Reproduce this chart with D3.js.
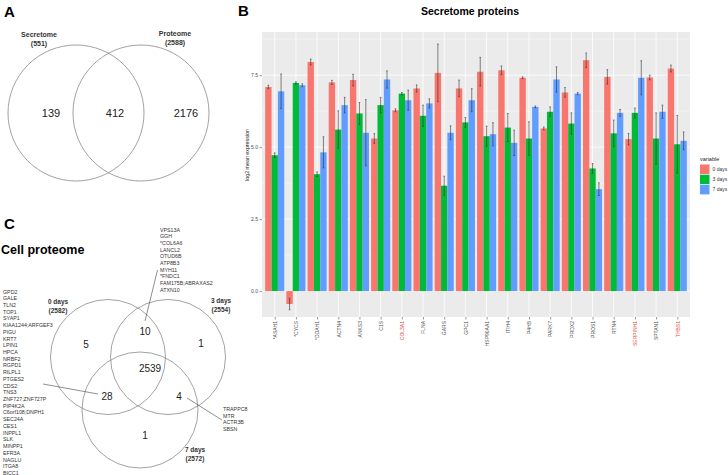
<!DOCTYPE html>
<html>
<head>
<meta charset="utf-8">
<script src="https://cdn.jsdelivr.net/npm/d3@7"></script>
<style>
  body { margin: 0; background: #fff; }
  text { font-family: "Liberation Sans", Arial, sans-serif; }
</style>
</head>
<body>
<div id="fig"></div>
<script>
// ---- data ----
var genes = ["*ASAH1","*CYCS","*DDAH1","ACTN4","ANKS3","C1S","COL3A1","FLNA","GARS","GPC1",
             "HSP90AA1","ITIH4","P4HB","PARK7","PRDX2","PROS1","RTN4","SERPINH1","SPTAN1","THBS1"];
var redGenes = ["COL3A1","SERPINH1","THBS1"];
var days = ["0 days","3 days","7 days"];
var day0 = [7.09,-0.45,7.96,7.25,7.33,5.30,6.28,7.04,7.58,7.04,7.62,7.67,7.41,5.65,6.90,8.02,7.44,5.28,7.42,7.73];
var day3 = [4.72,7.23,4.06,5.61,6.17,6.46,6.86,6.09,3.66,5.86,5.38,5.68,5.30,6.23,5.82,4.26,5.48,6.19,5.30,5.10];
var day7 = [6.94,7.15,4.82,6.46,5.50,7.35,6.63,6.52,5.50,6.63,5.45,5.15,6.40,7.35,6.86,3.54,6.19,7.41,6.23,5.22];
var err0 = [0.06,0.20,0.10,0.07,0.20,0.17,0.05,0.12,1.00,0.29,0.50,0.15,0.03,0.05,0.17,0.25,0.25,0.20,0.08,0.12];
var err3 = [0.08,0.04,0.08,0.65,0.38,0.27,0.04,0.37,0.33,0.17,0.35,0.49,0.58,0.17,0.37,0.17,0.46,0.17,0.89,1.00];
var err7 = [0.60,0.05,0.54,0.27,1.15,0.30,0.35,0.16,0.24,0.40,0.40,0.44,0.03,0.44,0.04,0.22,0.12,0.59,0.23,0.31];
var yTicks = [0, 2.5, 5, 7.5];

var vennASets = ["Secretome","Proteome"];
var vennASizes = [551, 2588];
var vennACounts = [139, 412, 2176];

var vennCSets = ["0 days","3 days","7 days"];
var vennCSizes = [2582, 2554, 2572];
// regions: only0, 0&3, only3, all, 0&7, 3&7, only7
var vennCCounts = [5, 10, 1, 2539, 28, 4, 1];
var genes0and7 = ["GPD2","GALE","TLN2","TOP1","SYAP1","KIAA1244;ARFGEF3","PIGU","KRT7","LPIN1","HPCA",
  "NRBF2","RGPD1","RILPL1","PTGES2","CDS2","TNS3","ZNF727;ZNF727P","PIP4K2A","C6orf108;DNPH1","SEC24A",
  "CES1","INPPL1","SLK","MINPP1","EFR3A","NAGLU","ITGA8","BICC1"];
var genes0and3 = ["VPS13A","GGH","*COL6A6","LANCL2","OTUD6B","ATP8B3","MYH11","*FNDC1","FAM175B;ABRAXAS2","ATXN10"];
var genes3and7 = ["TRAPPC8","MTR","ACTR3B","SBSN"];

var colors = ["#F8766D","#00BA38","#619CFF"];

var svg = d3.select("#fig").append("svg").attr("width", 728).attr("height", 475);

// ---- panel A ----
svg.append("text").attr("x", 4).attr("y", 17).attr("font-size", 15).attr("font-weight", "bold").text("A");
var circA = [{cx: 76, cy: 113, r: 68}, {cx: 141, cy: 113, r: 68}];
svg.selectAll("circle.a").data(circA).enter().append("circle")
  .attr("cx", function(d) { return d.cx; }).attr("cy", function(d) { return d.cy; })
  .attr("r", function(d) { return d.r; })
  .attr("fill", "none").attr("stroke", "#8a8a8a").attr("stroke-width", 0.8);
var setLabA = [{x: 39, y: 37}, {x: 175, y: 36}];
setLabA.forEach(function(p, i) {
  var t = svg.append("text").attr("x", p.x).attr("y", p.y).attr("text-anchor", "middle")
    .attr("font-size", 7).attr("font-weight", "bold").attr("fill", "#333");
  t.append("tspan").attr("x", p.x).text(vennASets[i]);
  t.append("tspan").attr("x", p.x).attr("dy", 9).text("(" + vennASizes[i] + ")");
});
var cntA = [{x: 51}, {x: 115}, {x: 186}];
svg.selectAll("text.ca").data(vennACounts).enter().append("text")
  .attr("x", function(d, i) { return cntA[i].x; }).attr("y", 117)
  .attr("text-anchor", "middle").attr("font-size", 11).attr("fill", "#222")
  .text(function(d) { return d; });

// ---- panel B ----
svg.append("text").attr("x", 238).attr("y", 16).attr("font-size", 15).attr("font-weight", "bold").text("B");
svg.append("text").attr("x", 470).attr("y", 15).attr("text-anchor", "middle")
  .attr("font-size", 10.5).attr("font-weight", "bold").text("Secretome proteins");

var pL = 262, pR = 690, pT = 32, pB = 317;
var x = d3.scalePoint().domain(genes).range([pL, pR]).padding(0.6);
var step = x.step();
var xs = d3.scaleBand().domain(days).range([-0.45 * step, 0.45 * step]);
var y = d3.scaleLinear().domain([-0.9, 9.0]).range([pB, pT]);

var g = svg.append("g");
g.append("rect").attr("x", pL).attr("y", pT).attr("width", pR - pL).attr("height", pB - pT).attr("fill", "#EBEBEB");
var minor = [1.25, 3.75, 6.25, 8.75];
g.selectAll("line.mn").data(minor).enter().append("line")
  .attr("x1", pL).attr("x2", pR).attr("y1", function(d) { return y(d); }).attr("y2", function(d) { return y(d); })
  .attr("stroke", "#fff").attr("stroke-width", 0.4);
g.selectAll("line.mj").data(yTicks).enter().append("line")
  .attr("x1", pL).attr("x2", pR).attr("y1", function(d) { return y(d); }).attr("y2", function(d) { return y(d); })
  .attr("stroke", "#fff").attr("stroke-width", 0.8);
g.selectAll("line.vx").data(genes).enter().append("line")
  .attr("x1", function(d) { return x(d); }).attr("x2", function(d) { return x(d); })
  .attr("y1", pT).attr("y2", pB).attr("stroke", "#fff").attr("stroke-width", 0.8);

var rows = [];
genes.forEach(function(gn, i) {
  [day0, day3, day7].forEach(function(arr, k) {
    var e = [err0, err3, err7][k][i];
    rows.push({gene: gn, day: days[k], v: arr[i], e: e, k: k});
  });
});
g.selectAll("rect.bar").data(rows).enter().append("rect")
  .attr("x", function(d) { return x(d.gene) + xs(d.day); })
  .attr("width", xs.bandwidth())
  .attr("y", function(d) { return y(Math.max(0, d.v)); })
  .attr("height", function(d) { return Math.abs(y(d.v) - y(0)); })
  .attr("fill", function(d) { return colors[d.k]; });
var eb = g.selectAll("g.err").data(rows).enter().append("g")
  .attr("transform", function(d) { return "translate(" + (x(d.gene) + xs(d.day) + xs.bandwidth() / 2) + ",0)"; });
eb.append("line").attr("x1", 0).attr("x2", 0)
  .attr("y1", function(d) { return y(d.v - d.e); }).attr("y2", function(d) { return y(d.v + d.e); })
  .attr("stroke", "#333").attr("stroke-width", 0.6);
eb.append("line").attr("x1", -0.8).attr("x2", 0.8)
  .attr("y1", function(d) { return y(d.v + d.e); }).attr("y2", function(d) { return y(d.v + d.e); })
  .attr("stroke", "#333").attr("stroke-width", 0.6);
eb.append("line").attr("x1", -0.8).attr("x2", 0.8)
  .attr("y1", function(d) { return y(d.v - d.e); }).attr("y2", function(d) { return y(d.v - d.e); })
  .attr("stroke", "#333").attr("stroke-width", 0.6);

// axes
var yAx = svg.append("g").attr("transform", "translate(" + pL + ",0)")
  .call(d3.axisLeft(y).tickValues(yTicks).tickFormat(d3.format(".1f")).tickSize(2.5).tickPadding(1.5));
yAx.select(".domain").remove();
yAx.selectAll("line").attr("stroke", "#333").attr("stroke-width", 0.5);
yAx.selectAll("text").attr("font-size", 5).attr("fill", "#4D4D4D");

var xAx = svg.append("g").attr("transform", "translate(0," + pB + ")")
  .call(d3.axisBottom(x).tickSize(2.5).tickPadding(1.5));
xAx.select(".domain").remove();
xAx.selectAll("line").attr("stroke", "#333").attr("stroke-width", 0.5);
xAx.selectAll("text")
  .attr("font-size", 5).attr("text-anchor", "end")
  .attr("transform", "rotate(-90)").attr("x", -4).attr("y", 0).attr("dy", "0.35em")
  .attr("fill", function(d) { return redGenes.indexOf(d) >= 0 ? "#E8433A" : "#4D4D4D"; });

svg.append("text").attr("transform", "translate(249,155) rotate(-90)")
  .attr("text-anchor", "middle").attr("font-size", 5.3).attr("fill", "#222").text("log2 mean expression");

// legend
var lg = svg.append("g").attr("transform", "translate(700,0)");
lg.append("text").attr("x", 0).attr("y", 161).attr("font-size", 5.5).attr("fill", "#222").text("variable");
lg.selectAll("rect").data(days).enter().append("rect")
  .attr("x", 0).attr("y", function(d, i) { return 164.5 + i * 10.2; })
  .attr("width", 9.5).attr("height", 9.5)
  .attr("fill", function(d, i) { return colors[i]; });
lg.selectAll("text.lab").data(days).enter().append("text")
  .attr("x", 12.5).attr("y", function(d, i) { return 171 + i * 10.2; })
  .attr("font-size", 5).attr("fill", "#333").text(function(d) { return d; });

// ---- panel C ----
svg.append("text").attr("x", 4).attr("y", 229).attr("font-size", 15).attr("font-weight", "bold").text("C");
svg.append("text").attr("x", 1).attr("y", 254).attr("font-size", 12.5).attr("font-weight", "bold").text("Cell proteome");

var circC = [{cx: 108, cy: 357, r: 57.5}, {cx: 168, cy: 357, r: 57.5}, {cx: 140, cy: 410, r: 58}];
svg.selectAll("circle.c").data(circC).enter().append("circle")
  .attr("cx", function(d) { return d.cx; }).attr("cy", function(d) { return d.cy; })
  .attr("r", function(d) { return d.r; })
  .attr("fill", "none").attr("stroke", "#8a8a8a").attr("stroke-width", 0.8);

var setLabC = [{x: 58, y: 304}, {x: 221, y: 303}, {x: 195, y: 452}];
setLabC.forEach(function(p, i) {
  var t = svg.append("text").attr("x", p.x).attr("y", p.y).attr("text-anchor", "middle")
    .attr("font-size", 6.5).attr("font-weight", "bold").attr("fill", "#333");
  t.append("tspan").attr("x", p.x).text(vennCSets[i]);
  t.append("tspan").attr("x", p.x).attr("dy", 8.5).text("(" + vennCSizes[i] + ")");
});
var cntC = [{x: 86, y: 108}, {x: 145, y: 95}, {x: 201, y: 107}, {x: 150, y: 132}, {x: 107, y: 160}, {x: 179, y: 160}, {x: 145, y: 199}];
svg.selectAll("text.cc").data(vennCCounts).enter().append("text")
  .attr("x", function(d, i) { return cntC[i].x; }).attr("y", function(d, i) { return cntC[i].y + 240; })
  .attr("text-anchor", "middle").attr("font-size", 10).attr("fill", "#222")
  .text(function(d) { return d; });

function geneList(list, x0, y0, dy) {
  svg.append("g").selectAll("text").data(list).enter().append("text")
    .attr("x", x0).attr("y", function(d, i) { return y0 + i * dy; })
    .attr("font-size", 5.3).attr("fill", "#333").text(function(d) { return d; });
}
geneList(genes0and7, 3, 293.5, 6.72);
geneList(genes0and3, 160, 231.5, 6.68);
geneList(genes3and7, 223, 411, 6.7);

var leaders = [
  {x1: 43, y1: 384, x2: 98, y2: 394},
  {x1: 157.5, y1: 270, x2: 145, y2: 321},
  {x1: 187, y1: 398, x2: 222, y2: 420}
];
svg.selectAll("line.ld").data(leaders).enter().append("line")
  .attr("x1", function(d) { return d.x1; }).attr("y1", function(d) { return d.y1; })
  .attr("x2", function(d) { return d.x2; }).attr("y2", function(d) { return d.y2; })
  .attr("stroke", "#444").attr("stroke-width", 0.6);
</script>
</body>
</html>
